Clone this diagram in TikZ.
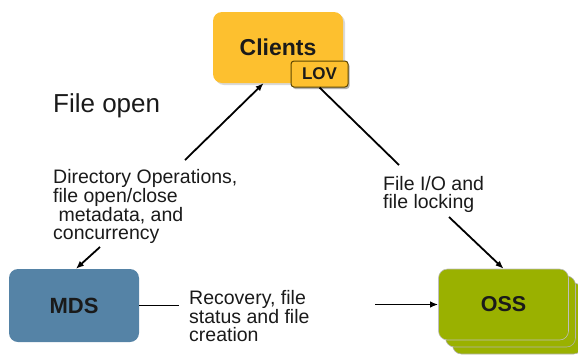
\documentclass[tikz,border=0pt]{standalone}
\usepackage{fontspec}
\setmainfont{Liberation Sans}
\usetikzlibrary{arrows.meta}
\definecolor{clientc}{HTML}{FDC02F}
\definecolor{lovborder}{HTML}{5E4700}
\definecolor{mdsc}{HTML}{5583A6}
\definecolor{ossc}{HTML}{9AB100}
\definecolor{txt}{HTML}{1A1A1A}
\tikzset{
  box/.style={rounded corners=9pt, minimum width=130pt, minimum height=71pt, inner sep=0pt, font=\bfseries\fontsize{22}{22}\selectfont, text=txt},
  shadowbox/.style={rounded corners=9pt, minimum width=130pt, minimum height=71pt, inner sep=0pt},
  lbl/.style={inner sep=0pt, anchor=north west, align=left, font=\fontsize{19.5}{18}\selectfont, text=txt},
  conn/.style={line width=1.8pt, -{Latex[length=8pt,width=6.5pt]}},
  plain/.style={line width=1.8pt},
}
\begin{document}
\begin{tikzpicture}[x=1pt,y=-1pt]
\useasboundingbox (0,0) rectangle (578,357);
% Clients
\node[shadowbox, fill=black!15] (clientsh) at (280,49.5) {};
\node[box, fill=clientc, font=\bfseries\fontsize{23}{23}\selectfont] (clients) at (278,47.5) {Clients};
\node[rounded corners=3pt, minimum width=57pt, minimum height=26pt, inner sep=0pt, fill=black!30] (lovsh) at (321,76) {};
\node[rounded corners=3pt, minimum width=57pt, minimum height=26pt, inner sep=0pt, fill=clientc, draw=lovborder, line width=1pt, font=\bfseries\fontsize{17}{17}\selectfont, text=txt] (lov) at (319.5,74) {LOV};
% MDS
\node[box, fill=mdsc, minimum height=73pt] (mds) at (74,305.5) {MDS};
% OSS stack
\node[box, fill=ossc, draw=black!30, line width=0.6pt] (oss3) at (517.5,318.5) {};
\node[box, fill=ossc, draw=black!30, line width=0.6pt] (oss2) at (510.5,311.5) {};
\node[box, fill=ossc, draw=black!25, line width=0.6pt, font=\bfseries\fontsize{21.5}{21.5}\selectfont] (oss) at (503.5,304.5) {OSS};
% labels
\node[lbl, font=\fontsize{26}{26}\selectfont] (fileopen) at (53,93) {File open};
\node[lbl] (dirops) at (53,169) {Directory Operations,\\file open/close\\\ metadata, and\\concurrency};
\node[lbl] (fileio) at (383,176) {File I/O and\\file locking};
\node[lbl] (recovery) at (189,290) {Recovery, file\\status and file\\creation};
% connector ends
\coordinate (c1) at (185,160);
\coordinate (c2) at (100,247);
\coordinate (c3) at (399,165);
\coordinate (c4) at (449,217);
\coordinate (c5) at (179,305.5);
\coordinate (c6) at (375,304.5);
% connectors
\draw[conn] (c1) -- (clients.248.5);
\draw[conn] (c2) -- (mds.87);
\draw[plain] (lov.south) -- (c3);
\draw[conn] (c4) -- (oss.north);
\draw[plain] (mds.east) -- (c5);
\draw[conn] (c6) -- (oss.west);
\end{tikzpicture}
\end{document}
